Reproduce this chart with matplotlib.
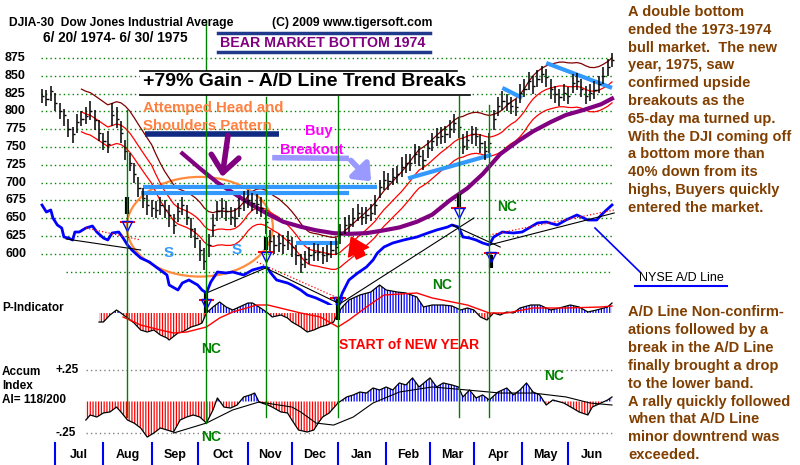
import numpy as np
import pandas as pd
import matplotlib
matplotlib.use('Agg')
import matplotlib.pyplot as plt
from matplotlib import transforms
from matplotlib.lines import Line2D
from matplotlib.patches import Ellipse, Rectangle

plt.rcParams['font.family'] = ['Liberation Sans', 'DejaVu Sans']
plt.rcParams['hatch.linewidth'] = 0.9

# ---------------- data (x = trading day since 6/20/1974) ----------------
# DJIA bars, one bar per two trading days
bar_day = list(range(0, 261, 2))
cl = [822, 818, 828, 812, 800, 795, 775, 768, 785, 790,
      793, 800, 788, 770, 758, 754, 795, 790, 770, 745,
      728, 712, 693, 678, 668, 665, 662, 668, 662, 655,
      640, 660, 668, 652, 635, 622, 605, 590, 612, 640,
      660, 664, 660, 652, 650, 665, 674, 676, 672, 670,
      665, 645, 618, 612, 615, 612, 620, 610, 598, 585,
      592, 598, 603, 602, 598, 600, 606, 610, 628, 640,
      642, 650, 658, 652, 654, 658, 668, 694, 704, 702,
      708, 712, 722, 727, 728, 740, 738, 732, 748, 758,
      764, 766, 768, 775, 784, 778, 752, 760, 768, 765,
      755, 745, 755, 790, 808, 815, 812, 808, 806, 826,
      832, 842, 836, 846, 852, 848, 832, 824, 820, 826,
      822, 840, 842, 832, 822, 826, 830, 838, 850, 862,
      872]
hi = [832, 830, 836, 826, 812, 804, 790, 778, 796, 800,
      806, 814, 802, 788, 770, 772, 812, 806, 786, 760,
      742, 728, 708, 692, 682, 676, 674, 680, 675, 668,
      656, 672, 680, 668, 650, 636, 620, 608, 628, 656,
      674, 678, 674, 666, 664, 678, 688, 690, 686, 684,
      680, 662, 634, 626, 628, 626, 632, 624, 612, 600,
      604, 610, 615, 614, 610, 612, 618, 622, 642, 652,
      654, 664, 670, 666, 666, 670, 682, 704, 716, 714,
      720, 724, 736, 740, 740, 754, 752, 746, 760, 770,
      776, 778, 780, 788, 796, 792, 768, 772, 780, 778,
      768, 758, 770, 802, 820, 828, 824, 820, 818, 838,
      846, 856, 850, 858, 864, 860, 846, 836, 832, 838,
      834, 852, 854, 846, 836, 838, 842, 850, 862, 874,
      882]
lo = [812, 808, 815, 800, 790, 780, 764, 756, 770, 780,
      782, 788, 774, 758, 746, 742, 780, 776, 756, 732,
      716, 700, 680, 664, 655, 652, 650, 655, 650, 638,
      628, 644, 655, 640, 622, 608, 590, 577, 596, 624,
      646, 650, 646, 640, 638, 652, 660, 664, 660, 656,
      652, 628, 604, 600, 602, 600, 606, 596, 584, 573,
      580, 586, 590, 590, 586, 588, 594, 598, 614, 628,
      630, 638, 646, 640, 642, 646, 654, 678, 690, 690,
      696, 700, 708, 714, 716, 726, 724, 718, 734, 744,
      752, 754, 756, 762, 770, 762, 740, 746, 754, 752,
      742, 732, 742, 774, 794, 802, 800, 796, 794, 812,
      820, 830, 824, 834, 840, 834, 818, 812, 808, 814,
      810, 826, 830, 820, 810, 814, 818, 826, 838, 850,
      862]

# 65-day moving average (purple)
ma65_day = [64, 72, 80, 87, 95, 103, 110, 118, 125, 133, 140, 148, 156, 163,
            171, 178, 186, 194, 201, 209, 217, 224, 232, 239, 247, 255, 260]
ma65 = [741, 720, 700, 686, 670, 656, 645, 638, 633, 629, 628, 629, 633, 637,
        645, 655, 675, 692, 712, 740, 758, 772, 785, 795, 802, 810, 818]

# NYSE A/D line (own scale)
ad_day = [0, 2, 4, 5, 7, 9, 10, 12, 14, 15, 17, 20, 23, 25, 28, 30, 32, 35, 37, 39,
          41, 45, 49, 52, 57, 58, 62, 64, 67, 71, 73, 75, 77, 80, 84, 87, 92, 96, 101, 103,
          104, 107, 112, 114, 118, 121, 125, 130, 133, 135, 137, 140, 144, 148, 151, 153, 156, 160, 165, 171,
          176, 180, 185, 187, 190, 192, 195, 198, 201, 204, 206, 210, 215, 219, 226, 230, 235, 239, 244, 249,
          253, 256, 260]
ad_val = [100, 93, 95, 87, 80, 77, 68, 67, 65, 73, 73, 77, 79, 73, 67, 65, 72, 73, 67, 60,
          55, 47, 43, 38, 30, 20, 15, 22, 25, 20, 15, 12, 23, 33, 32, 33, 30, 35, 38, 37,
          33, 25, 22, 20, 15, 10, 7, 2, -2, 0, 12, 25, 32, 38, 45, 52, 58, 62, 65, 68,
          72, 75, 78, 80, 78, 68, 67, 65, 62, 60, 68, 73, 72, 73, 82, 83, 80, 85, 90, 85,
          85, 92, 100]

# P-Indicator
p_day = [26, 28, 31, 34, 36, 39, 42, 45, 48, 51, 54, 57, 58, 62, 64, 68, 71, 73, 75, 78,
         81, 84, 87, 90, 94, 96, 99, 103, 105, 109, 112, 114, 118, 121, 124, 127, 130, 133, 135, 137,
         140, 145, 150, 154, 157, 162, 166, 171, 174, 178, 183, 187, 191, 194, 197, 200, 203, 206, 209, 212,
         215, 218, 223, 227, 232, 236, 241, 245, 249, 253, 258, 260]
p_val = [-9, -9, -2, 3, 0, -5, -10, -17, -19, -17, -22, -25, -27, -20, -19, -14, -12, -10, 0, 6,
         11, 6, 3, 6, 10, 10, 6, 0, -4, -2, -5, -9, -14, -19, -17, -14, -12, -9, 0, 6,
         13, 18, 21, 28, 23, 21, 20, 16, 6, 8, 8, 7, 3, 5, 3, -4, -7, 0, -2, 1,
         0, 5, 8, 8, 3, 5, 8, 6, 1, 3, 6, 10]
p_ma_day = [37, 45, 54, 60, 66, 75, 81, 87, 98, 103, 118, 127, 135, 140, 148, 156,
            171, 178, 194, 204, 212, 224, 239, 255, 260]
p_ma = [-4, -12, -17, -20, -19, -14, -5, 1, 8, 8, 0, -4, -14, -7, 6, 18,
        20, 15, 8, 0, 0, 5, 5, 6, 7]

# Accumulation Index
ai_day = [20, 22, 25, 28, 31, 34, 36, 39, 42, 45, 48, 51, 54, 57, 60, 63, 66, 69, 72, 75,
          78, 80, 83, 86, 89, 92, 95, 97, 99, 103, 105, 109, 112, 114, 117, 121, 124, 126, 128, 131,
          135, 139, 142, 145, 148, 151, 154, 157, 160, 163, 166, 169, 172, 177, 180, 183, 187, 190, 192, 195,
          198, 201, 204, 208, 212, 215, 218, 221, 224, 227, 230, 233, 238, 242, 245, 249, 251, 255, 258, 260]
ai_val = [-0.147, -0.107, -0.123, -0.091, -0.083, -0.044, -0.083, -0.147, -0.171, -0.210,
          -0.282, -0.250, -0.210, -0.226, -0.242, -0.147, -0.123, -0.107, -0.123, -0.171,
          -0.067, 0.028, -0.044, -0.052, -0.028, 0.036, 0.052, 0.067, -0.004, -0.028,
          -0.044, -0.083, -0.091, -0.147, -0.226, -0.242, -0.226, -0.171, -0.123, -0.091,
          -0.012, 0.036, 0.052, 0.075, 0.067, 0.107, 0.091, 0.115, 0.091, 0.147,
          0.131, 0.187, 0.115, 0.187, 0.115, 0.147, 0.131, 0.115, 0.036, 0.091,
          0.028, 0.052, 0.012, 0.075, 0.107, 0.052, 0.091, 0.147, 0.075, 0.052,
          -0.028, 0.012, -0.012, -0.052, -0.083, -0.107, -0.044, -0.012, 0.012, 0.036]
ai_ma_day = [60, 75, 87, 99, 114, 118, 125, 133, 142, 151, 163, 178, 194, 209, 224, 239, 250, 260]
ai_ma = [-0.25, -0.171, -0.067, -0.004, -0.044, -0.083, -0.171, -0.187, -0.123, -0.012,
         0.075, 0.115, 0.091, 0.067, 0.067, 0.036, -0.012, -0.028]

price_ticks = [600, 625, 650, 675, 700, 725, 750, 775, 800, 825, 850, 875]
months = ['Jul', 'Aug', 'Sep', 'Oct', 'Nov', 'Dec', 'Jan', 'Feb', 'Mar', 'Apr', 'May', 'Jun']
month_start = [6, 28, 50, 71, 94, 114, 135, 157, 177, 197, 219, 240]

right_text1 = ["A double bottom", "ended the 1973-1974", "bull market.  The new",
               "year, 1975, saw", "confirmed upside", "breakouts as the",
               "65-day ma turned up.", "With the DJI coming off", "a bottom more than",
               "40% down from its", "highs, Buyers quickly", "entered the market."]
right_text2 = ["A/D Line Non-confirm-", "ations followed by a", "break in the A/D Line",
               "finally brought a drop", "to the lower band.", "A rally quickly followed",
               "when that A/D Line", "minor downtrend was", "exceeded."]

# ---------------- layout ----------------
W, H = 800, 465
fig = plt.figure(figsize=(8, 4.65), dpi=100)
fig.patch.set_facecolor('white')


def fx(x):
    return x / W


def fy(y):
    return 1 - y / H


PX_DAY = 570 / 260
DOTS = (0, (1, 2.2))


def add_panel(top, bottom, ylim):
    a = fig.add_axes([fx(40), fy(bottom), (615 - 40) / W, (bottom - top) / H])
    a.set_xlim((40 - 42) / PX_DAY, (615 - 42) / PX_DAY)
    a.set_ylim(*ylim)
    a.axis('off')
    return a


def ftext(x, y, s, **kw):
    kw.setdefault('va', 'center')
    kw.setdefault('weight', 'bold')
    fig.text(fx(x), fy(y), s, **kw)


ax = add_panel(40, 305, (875 - 247 / 0.712, 875 + 18 / 0.712))
adx = add_panel(40, 305, (0, 265))
pax = add_panel(270, 350, (-37, 43))
cax = add_panel(360, 445, (-0.345, 0.329))

# price panel grid + labels
ax.hlines(price_ticks, -0.5, 260, colors='#008000', linestyles=[DOTS], lw=1, zorder=0)
ax.hlines(575, 11, 260, colors='#008000', linestyles=[DOTS], lw=1, zorder=0)
tr = transforms.blended_transform_factory(fig.transFigure, ax.transData)
for p in price_ticks:
    ax.text(fx(5), p, str(p), transform=tr, fontsize=9, weight='bold', va='center', clip_on=False)

# bands from the 21-day average
ma = pd.Series(cl, index=bar_day).rolling(10).mean()
ax.plot(bar_day, ma * 1.04, color='#800000', lw=0.9)
ax.plot(bar_day, ma, color='#ff0000', lw=0.9)
ax.plot(bar_day, ma * 0.965, color='#ff0000', lw=0.9)
ax.plot(ma65_day, ma65, color='#800080', lw=3)

# trend lines on price
for (d0, p0), (d1, p1) in [((46, 694), (153, 694)), ((45, 686), (140, 686)), ((116, 615), (135, 615)),
                           ((167, 706), (205, 739)), ((210, 833), (219, 819)), ((230, 868), (260, 833))]:
    ax.plot([d0, d1], [p0, p1], color='#3399ff', lw=3, solid_capstyle='butt')
ax.plot([47, 108], [768, 768], color='#102a83', lw=4, solid_capstyle='butt')

# bars
ax.vlines(bar_day, lo, hi, color='black', lw=1.1)
ax.hlines(cl, bar_day, np.array(bar_day) + 1.0, color='black', lw=1.0)

# signals
for d, red, b0, b1 in [(39, 645, 656, 680), (102, 602, 606, 624), (190, 664, 666, 684),
                       (75, 535, 517, 545), (135, 538, 507, 538), (205, 601, 580, 598)]:
    ax.vlines(d, b0, b1, color='black', lw=3, clip_on=False)
    ax.hlines(red, d - 3.5, d + 3.5, color='#ff0000', lw=1.5, clip_on=False)
    ax.plot(d, red - 6, marker='v', ms=7, mfc='none', mec='#0000ff', mew=1, clip_on=False)

ax.add_patch(Ellipse((72, 638), 66.6, 140, fill=False, ec='#ff8c3c', lw=1.6))
ax.annotate('', xy=(82, 704), xytext=(85, 770),
            arrowprops=dict(arrowstyle='->,head_width=0.5,head_length=0.6', color='#800080',
                            lw=4, mutation_scale=20))
ax.plot([105, 140], [735, 734], color='#9999ff', lw=4, solid_capstyle='butt')
ax.annotate('', xy=(151, 699), xytext=(140, 734),
            arrowprops=dict(arrowstyle='-|>,head_width=0.5,head_length=0.6', color='#9999ff',
                            lw=4, mutation_scale=15))
ax.annotate('', xy=(140.5, 627), xytext=(146, 592),
            arrowprops=dict(arrowstyle='simple,head_width=1.6,head_length=1.2,tail_width=0.7',
                            fc='#ff0000', ec='#ff0000', mutation_scale=10))
ax.text(58, 601, 'S', color='#3399ff', fontsize=11, weight='bold', ha='center', va='center')
ax.text(89, 605, 'S', color='#3399ff', fontsize=11, weight='bold', ha='center', va='center')

# A/D line
adx.plot(ad_day, ad_val, color='#0000ff', lw=2)
for (d0, v0), (d1, v1) in [((11, 66), (45, 55)), ((75, 12), (102, 37)), ((102, 37), (135, 2)),
                           ((135, 0), (197, 87)), ((187, 80), (209, 58)), ((204, 60), (261, 92))]:
    adx.plot([d0, d1], [v0, v1], color='black', lw=0.8)
for (d0, v0), (d1, v1) in [((20, 77), (45, 65)), ((98, 43), (135, 7)), ((204, 70), (261, 95))]:
    adx.plot([d0, d1], [v0, v1], color='#ff0000', lw=0.9, ls=':')

# P-Indicator
pdx, pv = np.array(p_day), np.array(p_val)
pax.fill_between(pdx, 0, pv, where=pv >= 0, interpolate=True, facecolor='none',
                 edgecolor='#0000ff', hatch='||||||', lw=0)
pax.fill_between(pdx, 0, pv, where=pv <= 0, interpolate=True, facecolor='none',
                 edgecolor='#ff0000', hatch='||||||', lw=0)
pax.plot(p_day, p_val, color='black', lw=0.9)
pax.plot(p_ma_day, p_ma, color='#ff0000', lw=1)

# Accumulation Index
cdx, cv = np.array(ai_day), np.array(ai_val)
cax.hlines([0.25, -0.25], 20, 260, colors='#808080', linestyles=[DOTS], lw=1)
cax.fill_between(cdx, 0, cv, where=cv >= 0, interpolate=True, facecolor='none',
                 edgecolor='#0000ff', hatch='||||||', lw=0)
cax.fill_between(cdx, 0, cv, where=cv <= 0, interpolate=True, facecolor='none',
                 edgecolor='#ff0000', hatch='||||||', lw=0)
cax.plot(ai_day, ai_val, color='black', lw=0.9)
cax.plot(ai_ma_day, ai_ma, color='black', lw=0.8)

# green signal verticals and month axis
tb = transforms.blended_transform_factory(cax.transData, fig.transFigure)
for d, top, bot in [(39, 110, 417), (75, 20, 423), (102, 97, 417),
                    (135, 96, 417), (190, 96, 417), (204, 105, 417)]:
    cax.add_line(Line2D([d, d], [fy(top), fy(bot)], transform=tb, color='#008000', lw=1, clip_on=False))
bounds = month_start + [262]
for i, m in enumerate(months):
    cax.add_line(Line2D([month_start[i]] * 2, [fy(443), fy(464)], transform=tb,
                        color='#0000ff', lw=1.5, clip_on=False))
    cax.text((bounds[i] + bounds[i + 1]) / 2, fy(455), m, transform=tb, ha='center', va='center',
             fontsize=9, weight='bold', clip_on=False)

# ---------------- text & boxes ----------------
fig.add_artist(Rectangle((fx(140), fy(95)), fx(330), 24 / H, transform=fig.transFigure,
                         fc='white', ec='none', zorder=1))
for x0, x1, y, c, lw in [(140, 457, 71, 'black', 1.2), (140, 470, 95, 'black', 1.2),
                         (218, 430, 33, '#1f3a8a', 2.5), (218, 430, 52, '#1f3a8a', 2.5),
                         (635, 727, 286, '#0000ff', 1.5)]:
    fig.add_artist(Line2D([fx(x0), fx(x1)], [fy(y), fy(y)], transform=fig.transFigure, color=c, lw=lw))
fig.add_artist(Line2D([fx(595), fx(640)], [fy(228), fy(272)], transform=fig.transFigure,
                      color='#0000ff', lw=1.2))

ftext(9, 23, 'DJIA-30  Dow Jones Industrial Average', fontsize=8.7)
ftext(43, 38, '6/ 20/ 1974- 6/ 30/ 1975', fontsize=9.8)
ftext(272, 23, '(C) 2009 www.tigersoft.com', fontsize=8.8)
ftext(323, 43, 'BEAR MARKET BOTTOM 1974', ha='center', fontsize=10.2, color='#800080')
ftext(305, 82, '+79% Gain - A/D Line Trend Breaks', ha='center', fontsize=14, zorder=4)
ftext(143, 108, 'Attemped Head and', fontsize=10.8, color='#ff8040')
ftext(143, 126, 'Shoulders Pattern', fontsize=10.8, color='#ff8040')
ftext(319, 131, 'Buy', ha='center', fontsize=10.5, color='#ff00ff')
ftext(312, 150, 'Breakout', ha='center', fontsize=10.5, color='#ff00ff')
for x, y in [(507, 207), (442, 285), (211, 349), (554, 376), (211, 437)]:
    ftext(x, y, 'NC', ha='center', fontsize=10, color='#008000')
ftext(409, 345, 'START of NEW YEAR', ha='center', fontsize=10, color='#ff0000')
ftext(2, 308, 'P-Indicator', fontsize=8.5)
ftext(2, 372, 'Accum', fontsize=8.5)
ftext(2, 386, 'Index', fontsize=8.5)
ftext(2, 400, 'AI= 118/200', fontsize=8.5)
ftext(55, 370, '+.25', fontsize=8.5)
ftext(55, 433, '-.25', fontsize=8.5)
ftext(681, 278, 'NYSE A/D Line', ha='center', fontsize=9, weight='normal')

for k, line in enumerate(right_text1):
    ftext(628, 12 + 17.8 * k, line, fontsize=10.5, color='#803f00')
for k, line in enumerate(right_text2):
    ftext(628, 312 + 17.9 * k, line, fontsize=10.5, color='#803f00')

fig.savefig('out.png', dpi=100, facecolor='white')
